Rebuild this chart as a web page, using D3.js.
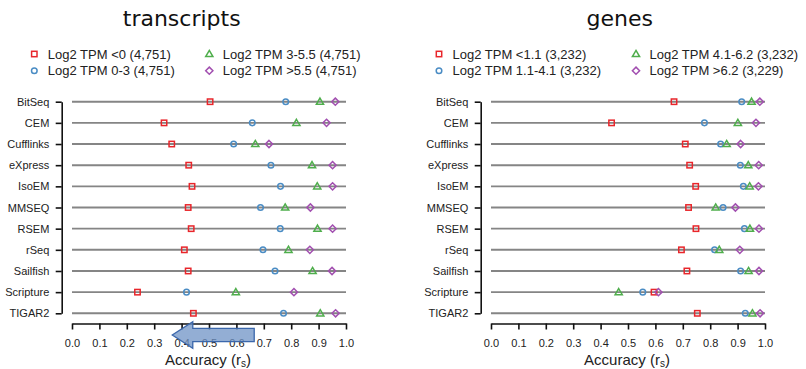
<!DOCTYPE html>
<html>
<head>
<meta charset="utf-8">
<script src="https://cdn.jsdelivr.net/npm/d3@7"></script>
<style>
  html, body { margin: 0; padding: 0; background: #fff; }
  svg { display: block; }
  text { font-family: "Liberation Sans", Arial, sans-serif; fill: #222; }
</style>
</head>
<body>
<svg id="chart" width="806" height="369"></svg>
<script>
// Methods compared (top to bottom)
const methods = ["BitSeq", "CEM", "Cufflinks", "eXpress", "IsoEM", "MMSEQ",
                 "RSEM", "rSeq", "Sailfish", "Scripture", "TIGAR2"];

// Spearman accuracy per expression bin — transcripts
const txLabels = ["Log2 TPM <0 (4,751)", "Log2 TPM 0-3 (4,751)",
                  "Log2 TPM 3-5.5 (4,751)", "Log2 TPM >5.5 (4,751)"];
const txLow    = [0.504, 0.336, 0.364, 0.426, 0.438, 0.424, 0.435, 0.410, 0.424, 0.239, 0.443];
const txMidLow = [0.780, 0.658, 0.590, 0.726, 0.761, 0.688, 0.760, 0.697, 0.741, 0.418, 0.772];
const txMidHi  = [0.905, 0.819, 0.669, 0.876, 0.895, 0.778, 0.896, 0.790, 0.878, 0.598, 0.906];
const txHigh   = [0.961, 0.929, 0.719, 0.951, 0.951, 0.870, 0.951, 0.868, 0.949, 0.810, 0.962];

// Spearman accuracy per expression bin — genes
const gnLabels = ["Log2 TPM <1.1 (3,232)", "Log2 TPM 1.1-4.1 (3,232)",
                  "Log2 TPM 4.1-6.2 (3,232)", "Log2 TPM >6.2 (3,229)"];
const gnLow    = [0.668, 0.440, 0.709, 0.725, 0.747, 0.721, 0.748, 0.695, 0.715, 0.595, 0.753];
const gnMidLow = [0.915, 0.779, 0.838, 0.910, 0.921, 0.847, 0.925, 0.816, 0.911, 0.554, 0.928];
const gnMidHi  = [0.951, 0.901, 0.860, 0.939, 0.944, 0.820, 0.945, 0.833, 0.940, 0.466, 0.954];
const gnHigh   = [0.981, 0.967, 0.911, 0.977, 0.976, 0.892, 0.978, 0.908, 0.978, 0.611, 0.982];

// Axis ticks
const xTicks = [0, 0.1, 0.2, 0.3, 0.4, 0.5, 0.6, 0.7, 0.8, 0.9, 1.0];

// Marker styles for the four bins
const binColors = ["#e8262b", "#4a8cc4", "#4fae4c", "#a24fb0"];
const binShapes = ["square", "circle", "triangle", "diamond"];

// Shaded arrow drawn under the transcripts axis (in accuracy units)
const arrowFrom = 0.665, arrowTo = 0.366;

const svg = d3.select("#chart");

function marker(g, shape, color, cx, cy) {
  const common = s => s.attr("fill", "none").attr("stroke", color).attr("stroke-width", 1.5);
  if (shape === "square") {
    g.append("rect").attr("x", cx - 2.7).attr("y", cy - 2.7)
      .attr("width", 5.4).attr("height", 5.4).call(common);
  } else if (shape === "circle") {
    g.append("circle").attr("cx", cx).attr("cy", cy).attr("r", 2.8).call(common);
  } else if (shape === "triangle") {
    const h = 3.6;
    g.append("path")
      .attr("d", `M${cx},${cy - h}L${cx + 3.6},${cy + 2.6}L${cx - 3.6},${cy + 2.6}Z`)
      .call(common);
  } else {
    const r = 3.6;
    g.append("path")
      .attr("d", `M${cx},${cy - r}L${cx + r},${cy}L${cx},${cy + r}L${cx - r},${cy}Z`)
      .call(common);
  }
}

function panel(opts) {
  const g = svg.append("g");
  const x = d3.scaleLinear().domain([0, 1]).range([opts.x0, opts.x0 + 274]);
  const y = d3.scalePoint().domain(methods).range([101.7, 313.3]).padding(0);

  // Title
  g.append("text")
    .attr("x", opts.titleX).attr("y", 26)
    .attr("text-anchor", "middle")
    .style("font-family", "'DejaVu Sans', sans-serif")
    .style("font-size", "22px")
    .style("fill", "#111")
    .text(opts.title);

  // Legend (two columns)
  opts.labels.forEach((lab, i) => {
    const col = i < 2 ? 0 : 1;
    const row = i % 2;
    const mx = opts.legX[col];
    const my = 54 + row * 16.7;
    marker(g, binShapes[i], binColors[i], mx, my);
    g.append("text")
      .attr("x", mx + 13.5).attr("y", my)
      .attr("dy", "0.36em")
      .style("font-size", "13px")
      .text(lab);
  });

  // Horizontal guide lines across the full accuracy range
  g.selectAll("line.guide").data(methods).join("line")
    .attr("class", "guide")
    .attr("x1", x(0)).attr("x2", x(1))
    .attr("y1", d => y(d)).attr("y2", d => y(d))
    .attr("stroke", "#858585").attr("stroke-width", 1.9);

  // Points for each bin
  opts.series.forEach((vals, si) => {
    methods.forEach((m, mi) => {
      marker(g, binShapes[si], binColors[si], x(vals[mi]), y(m));
    });
  });

  // Y axis
  const yAxis = g.append("g")
    .attr("transform", `translate(${opts.yAxisX},0)`)
    .call(d3.axisLeft(y).tickSize(6).tickSizeOuter(0).tickPadding(6.4));
  yAxis.select(".domain").attr("stroke", "#111").attr("stroke-width", 1.6);
  yAxis.selectAll(".tick line").attr("stroke", "#111").attr("stroke-width", 1.6);
  yAxis.selectAll(".tick text")
    .style("font-family", "'Liberation Sans', Arial, sans-serif")
    .style("font-size", "11px").attr("fill", "#333");

  // X axis
  const xAxis = g.append("g")
    .attr("transform", "translate(0,323.5)")
    .call(d3.axisBottom(x).tickValues(xTicks).tickSize(6).tickSizeOuter(0)
      .tickPadding(10).tickFormat(d3.format(".1f")));
  xAxis.select(".domain").attr("stroke", "#111").attr("stroke-width", 1.6);
  xAxis.selectAll(".tick line").attr("stroke", "#111").attr("stroke-width", 1.6);
  xAxis.selectAll(".tick text")
    .style("font-family", "'Liberation Sans', Arial, sans-serif")
    .style("font-size", "11px").attr("fill", "#333");

  // Axis title with subscript
  const t = g.append("text")
    .attr("x", (x(0) + x(1)) / 2 - 1).attr("y", 364.5)
    .attr("text-anchor", "middle")
    .style("font-size", "15px");
  t.append("tspan").text("Accuracy (r");
  t.append("tspan").attr("dy", 2.5).style("font-size", "10px").text("s");
  t.append("tspan").attr("dy", -2.5).text(")");

  return { g, x };
}

const left = panel({
  title: "transcripts", titleX: 181.7, x0: 72, yAxisX: 61.7,
  legX: [34.3, 209.3], labels: txLabels,
  series: [txLow, txMidLow, txMidHi, txHigh]
});

panel({
  title: "genes", titleX: 619.7, x0: 491, yAxisX: 480.7,
  legX: [439, 636], labels: gnLabels,
  series: [gnLow, gnMidLow, gnMidHi, gnHigh]
});

// Left-pointing arrow over the transcripts axis
{
  const x = left.x;
  const cy = 335, body = 6.6, head = 13.2;
  const xr = x(arrowFrom), xt = x(arrowTo), xb = xt + 20.5;
  left.g.append("path")
    .attr("d", `M${xr},${cy - body}L${xb},${cy - body}L${xb},${cy - head}L${xt},${cy}` +
               `L${xb},${cy + head}L${xb},${cy + body}L${xr},${cy + body}Z`)
    .attr("fill", "#6f93c6").attr("fill-opacity", 0.75)
    .attr("stroke", "#3b67ab").attr("stroke-width", 1.3);
}
</script>
</body>
</html>
